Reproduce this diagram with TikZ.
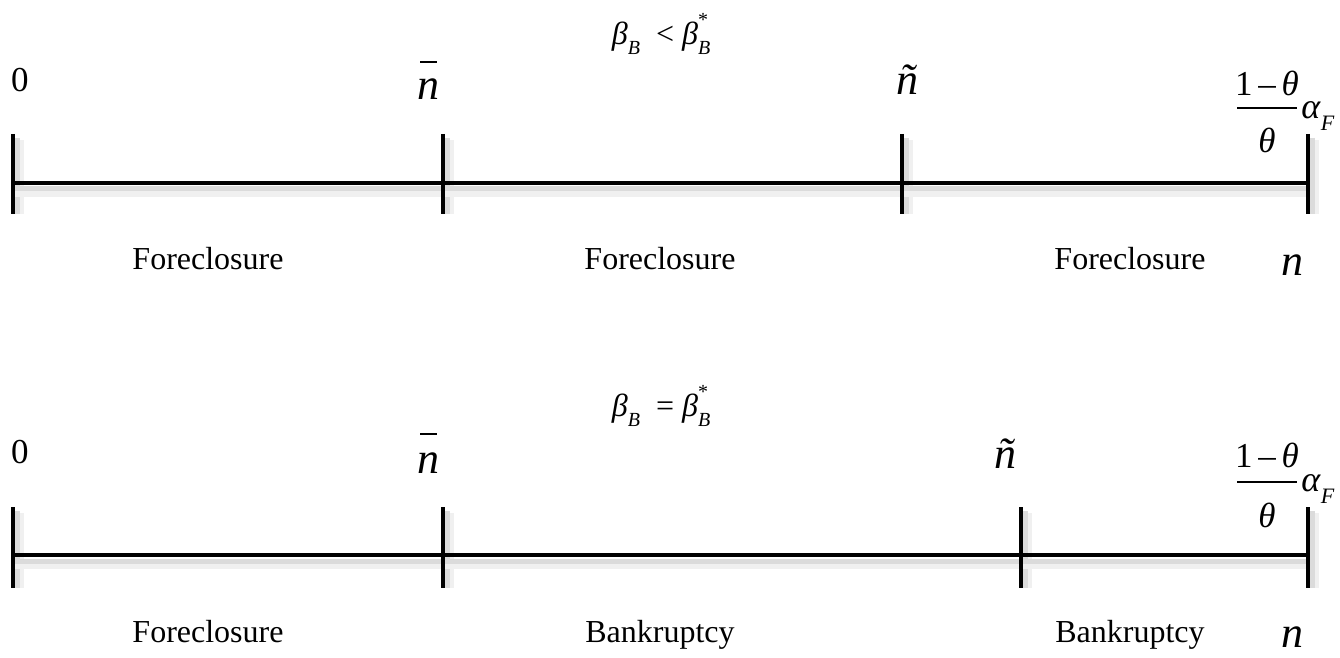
\documentclass[tikz,border=0pt]{standalone}
\usepackage{fontspec}
\setmainfont{Liberation Serif}
\usetikzlibrary{calc}
\newcommand{\subB}{\raisebox{-0.32em}{\fontsize{10}{11}\selectfont\textit{B}}}
\newcommand{\starB}{\rlap{\raisebox{-0.32em}{\fontsize{10}{11}\selectfont\textit{B}}}\raisebox{0.55em}{\fontsize{10}{11}\selectfont *}}
\begin{document}
\begin{tikzpicture}[x=0.5pt,y=-0.5pt,
  axisln/.style={line width=1.6pt,black},
  shadeA/.style={line width=2.5pt,black!14},
  shadeB/.style={line width=5pt,black!6},
  barln/.style={line width=0.9pt,black},
  word/.style={font=\fontsize{16}{19}\selectfont,inner sep=0pt,anchor=base},
  sym/.style={font=\fontsize{22}{26}\selectfont,inner sep=0pt,anchor=base},
  num/.style={font=\fontsize{17.5}{20}\selectfont,inner sep=0pt},
  ttl/.style={font=\fontsize{16}{19}\selectfont,inner sep=0pt}]
\useasboundingbox (0,0) rectangle (1340,658);
% ---------- top timeline ----------
\foreach \n/\x in {a0/13,a1/443,a2/902,a3/1308}{
  \coordinate (\n) at (\x,183);
  \coordinate (\n t) at (\x,134);
  \coordinate (\n b) at (\x,214);
  \draw[shadeB] ($(\n t)+(6,6)$) -- ($(\n b)+(6,0)$);
  \draw[shadeA] ($(\n t)+(4,4)$) -- ($(\n b)+(4,0)$);
}
\draw[shadeB] ($(a0)+(0,9)$) -- ($(a3)+(0,9)$);
\draw[shadeA] ($(a0)+(0,6)$) -- ($(a3)+(0,6)$);
\draw[axisln] (a0) -- (a3);
\foreach \n in {a0,a1,a2,a3}{\draw[axisln] (\n t) -- (\n b);}
\node[ttl] (ta) at (660,34) {\textit{β}\subB\ \ <\ \textit{β}\starB};
\node[num] (za) at (20,80) {0};
\node[sym] (nba) at (428,100) {\textit{n}};
\draw[barln] (420,62) -- (437,62);
\node[sym] (nta) at (907,95) {\textit{ñ}};
\node[num] (fna) at (1267,83) {1\,–\,\textit{θ}};
\node[num] (fda) at (1267,140) {\textit{θ}};
\draw[barln] (1237,108) -- (1297,108);
\node[num,anchor=west,font=\fontsize{18}{20}\selectfont] (ala) at (1301,116) {\textit{α}\raisebox{-0.35em}{\fontsize{11}{12}\selectfont\textit{F}}};
\node[word] (fa1) at (208,270) {Foreclosure};
\node[word] (fa2) at (660,270) {Foreclosure};
\node[word] (fa3) at (1130,270) {Foreclosure};
\node[sym] (na) at (1292,275) {\textit{n}};
% ---------- bottom timeline ----------
\foreach \n/\x in {b0/13,b1/443,b2/1021,b3/1308}{
  \coordinate (\n) at (\x,555);
  \coordinate (\n t) at (\x,507);
  \coordinate (\n b) at (\x,588);
  \draw[shadeB] ($(\n t)+(6,6)$) -- ($(\n b)+(6,0)$);
  \draw[shadeA] ($(\n t)+(4,4)$) -- ($(\n b)+(4,0)$);
}
\draw[shadeB] ($(b0)+(0,9)$) -- ($(b3)+(0,9)$);
\draw[shadeA] ($(b0)+(0,6)$) -- ($(b3)+(0,6)$);
\draw[axisln] (b0) -- (b3);
\foreach \n in {b0,b1,b2,b3}{\draw[axisln] (\n t) -- (\n b);}
\node[ttl] (tb) at (660,406) {\textit{β}\subB\ \ =\ \textit{β}\starB};
\node[num] (zb) at (20,452) {0};
\node[sym] (nbb) at (428,473) {\textit{n}};
\draw[barln] (420,434) -- (437,434);
\node[sym] (ntb) at (1005,468) {\textit{ñ}};
\node[num] (fnb) at (1267,455) {1\,–\,\textit{θ}};
\node[num] (fdb) at (1267,515) {\textit{θ}};
\draw[barln] (1237,482) -- (1297,482);
\node[num,anchor=west,font=\fontsize{18}{20}\selectfont] (alb) at (1301,489) {\textit{α}\raisebox{-0.35em}{\fontsize{11}{12}\selectfont\textit{F}}};
\node[word] (fb1) at (208,642) {Foreclosure};
\node[word] (fb2) at (660,642) {Bankruptcy};
\node[word] (fb3) at (1130,642) {Bankruptcy};
\node[sym] (nb) at (1292,647) {\textit{n}};
\end{tikzpicture}
\end{document}
